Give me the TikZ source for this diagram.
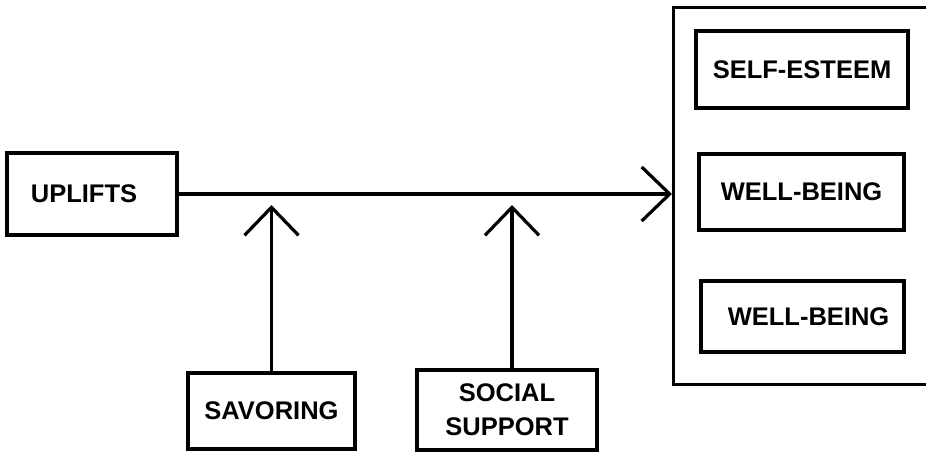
\documentclass[tikz,border=0pt]{standalone}
\usepackage{fontspec}
\setmainfont{Liberation Sans}
\usetikzlibrary{arrows.meta}
\tikzset{
  box/.style={draw, line width=3.2pt, rectangle, inner sep=0pt,
    font=\fontsize{25.5}{34}\selectfont\bfseries, align=center},
  arr/.style={line width=3.2pt, -{Straight Barb[length=28pt,width=54pt,line width=3.2pt]}},
}
\begin{document}
\begin{tikzpicture}[x=1pt,y=-1pt]
\useasboundingbox (0,0) rectangle (926,452);
\clip (0,0) rectangle (926,452);
\node[box, minimum width=290pt, minimum height=377pt, anchor=north west] (outer) at (672,6) {};
\node[box, minimum width=170pt, minimum height=82pt] (uplifts) at (92,194) {UPLIFTS\hspace*{16pt}};
\node[box, minimum width=212pt, minimum height=77pt] (self) at (802,69.5) {SELF-ESTEEM};
\node[box, minimum width=205pt, minimum height=76pt] (wb1) at (801.5,192) {WELL-BEING};
\node[box, minimum width=203pt, minimum height=71pt] (wb2) at (802.5,316.5) {\hspace*{12pt}WELL-BEING};
\node[box, minimum width=167pt, minimum height=76pt] (sav) at (271.5,411) {SAVORING};
\node[box, minimum width=180pt, minimum height=80pt] (soc) at (507,410) {SOCIAL\\SUPPORT};
\coordinate (t1) at (271.5,205);
\coordinate (t2) at (512,205);
\draw[arr] (uplifts.east) -- (uplifts.east -| outer.west);
\draw[arr] (sav.north) -- (t1);
\draw[arr] (soc.north -| t2) -- (t2);
\end{tikzpicture}
\end{document}
